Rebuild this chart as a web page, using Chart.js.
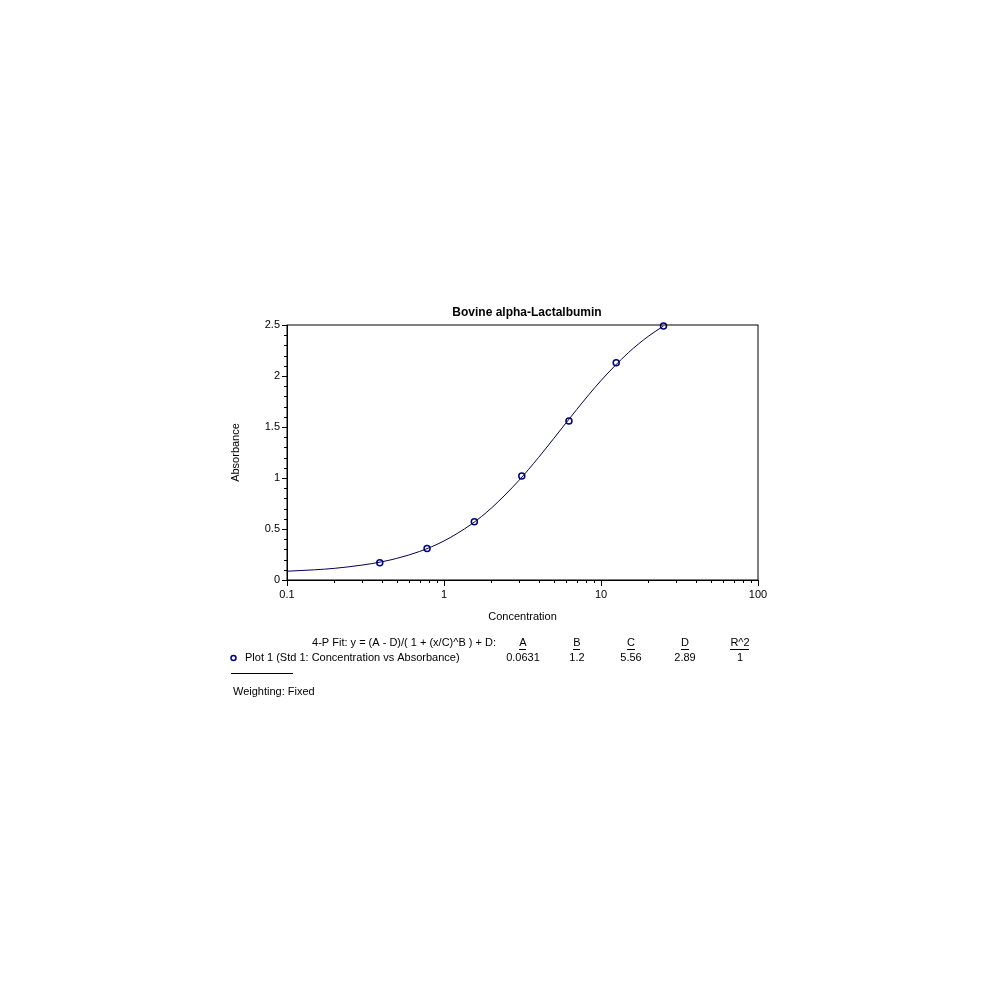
<!DOCTYPE html>
<html>
<head>
<meta charset="utf-8">
<title>Bovine alpha-Lactalbumin</title>
<script src="https://cdn.jsdelivr.net/npm/chart.js@4.4.1/dist/chart.umd.min.js"></script>
<style>
  body { margin: 0; background: #fff; }
  canvas { display: block; }
</style>
</head>
<body>
<canvas id="curveChart" width="1000" height="1000"></canvas>
<script>
// standards
const concentrations = [0.39, 0.78, 1.56, 3.13, 6.25, 12.5, 25];
const absorbance = [0.17, 0.31, 0.57, 1.02, 1.56, 2.13, 2.49];

// fitted curve, sampled along the drawn line
const fitX = [0.1, 0.15, 0.2, 0.3, 0.4, 0.5, 0.7, 1, 1.5, 2, 3, 4, 5, 7, 10, 15, 20, 25];
const fitY = [0.086, 0.100, 0.114, 0.146, 0.178, 0.212, 0.280, 0.383, 0.549, 0.704, 0.976, 1.201, 1.387, 1.671, 1.955, 2.231, 2.389, 2.490];

const xMajorTicks = [0.1, 1, 10, 100];
const fitParams = ['A', 'B', 'C', 'D', 'R^2'];
const fitValues = ['0.0631', '1.2', '5.56', '2.89', '1'];

const FONT = '"Liberation Sans", Arial, sans-serif';
const NAVY = '#000080';

const framePlugin = {
    id: 'frame',
    afterDraw(chart) {
        const ctx = chart.ctx;
        const area = chart.chartArea;
        const xs = chart.scales.x;
        const ys = chart.scales.y;
        ctx.save();
        ctx.strokeStyle = '#000';
        ctx.lineWidth = 1;
        ctx.strokeRect(area.left, area.top, area.right - area.left, area.bottom - area.top);

        // minor ticks
        ctx.beginPath();
        [0.1, 1, 10].forEach(d => {
            for (let m = 2; m <= 9; m++) {
                const px = Math.round(xs.getPixelForValue(d * m)) + 0.5;
                ctx.moveTo(px, area.bottom);
                ctx.lineTo(px, area.bottom + 3);
            }
        });
        for (let i = 1; i < 25; i++) {
            if (i % 5 === 0) continue;
            const py = Math.round(ys.getPixelForValue(i / 10)) + 0.5;
            ctx.moveTo(area.left - 3, py);
            ctx.lineTo(area.left, py);
        }
        ctx.stroke();

        ctx.fillStyle = '#000';
        ctx.textBaseline = 'middle';

        // title
        ctx.font = 'bold 12px ' + FONT;
        ctx.textAlign = 'center';
        ctx.fillText('Bovine alpha-Lactalbumin', 527, 313);

        // fit table
        ctx.font = '11px ' + FONT;
        ctx.textAlign = 'right';
        ctx.fillText('4-P Fit: y = (A - D)/( 1 + (x/C)^B ) + D:', 496, 643);
        ctx.textAlign = 'left';
        ctx.fillText('Plot 1 (Std 1: Concentration vs Absorbance)', 245, 658);
        ctx.fillText('Weighting: Fixed', 233, 692);

        const cols = [523, 577, 631, 685, 740];
        ctx.textAlign = 'center';
        cols.forEach((cx, i) => {
            ctx.fillText(fitParams[i], cx, 643);
            const w = ctx.measureText(fitParams[i]).width;
            ctx.fillRect(Math.round(cx - w / 2), 649, Math.round(w), 1);
            ctx.fillText(fitValues[i], cx, 658);
        });

        ctx.fillRect(231, 673, 62, 1);

        ctx.beginPath();
        ctx.strokeStyle = NAVY;
        ctx.lineWidth = 1.5;
        ctx.arc(233.5, 658, 2.5, 0, Math.PI * 2);
        ctx.stroke();
        ctx.restore();
    }
};

const ctx = document.getElementById('curveChart').getContext('2d');
const curveChart = new Chart(ctx, {
    type: 'scatter',
    data: {
        datasets: [
            {
                label: 'Fit',
                data: fitX.map((x, i) => ({ x: x, y: fitY[i] })),
                showLine: true,
                borderColor: '#000050',
                borderWidth: 1,
                pointRadius: 0,
                cubicInterpolationMode: 'monotone'
            },
            {
                label: 'Plot 1',
                data: concentrations.map((x, i) => ({ x: x, y: absorbance[i] })),
                showLine: false,
                borderColor: NAVY,
                backgroundColor: 'rgba(0,0,0,0)',
                borderWidth: 1.5,
                pointRadius: 3,
                clip: false
            }
        ]
    },
    options: {
        responsive: false,
        devicePixelRatio: 1,
        animation: false,
        layout: {
            padding: { top: 325, left: 225, right: 242, bottom: 372 }
        },
        plugins: {
            legend: { display: false },
            tooltip: { enabled: false },
            title: { display: false }
        },
        scales: {
            x: {
                type: 'logarithmic',
                min: 0.1,
                max: 100,
                afterBuildTicks: (scale) => {
                    scale.ticks = xMajorTicks.map(v => ({ value: v }));
                },
                afterFit: (scale) => { scale.height = 48; },
                ticks: {
                    color: '#000',
                    font: { family: FONT, size: 11 },
                    padding: 2,
                    maxRotation: 0,
                    autoSkip: false,
                    callback: (v) => String(v)
                },
                grid: {
                    drawOnChartArea: false,
                    drawTicks: true,
                    tickLength: 6,
                    tickColor: '#000'
                },
                border: { color: '#000' },
                title: {
                    display: true,
                    text: 'Concentration',
                    color: '#000',
                    font: { family: FONT, size: 11 }
                }
            },
            y: {
                min: 0,
                max: 2.5,
                afterFit: (scale) => { scale.width = 62; },
                ticks: {
                    stepSize: 0.5,
                    color: '#000',
                    font: { family: FONT, size: 11 },
                    padding: 2,
                    callback: (v) => String(v)
                },
                grid: {
                    drawOnChartArea: false,
                    drawTicks: true,
                    tickLength: 5,
                    tickColor: '#000'
                },
                border: { color: '#000' },
                title: {
                    display: true,
                    text: 'Absorbance',
                    color: '#000',
                    font: { family: FONT, size: 11 }
                }
            }
        }
    },
    plugins: [framePlugin]
});
</script>
</body>
</html>
